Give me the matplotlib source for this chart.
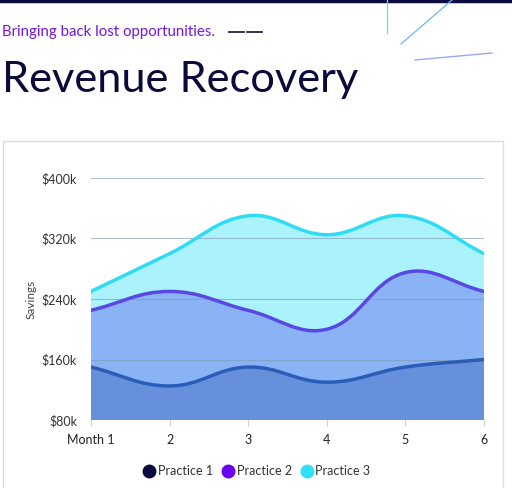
import numpy as np
import matplotlib
matplotlib.use("Agg")
import matplotlib.pyplot as plt
from matplotlib.path import Path
from matplotlib.patches import PathPatch, Rectangle
from matplotlib.lines import Line2D

plt.rcParams['font.family'] = ['Lato', 'DejaVu Sans']

months = [1, 2, 3, 4, 5, 6]
month_labels = ["Month 1", "2", "3", "4", "5", "6"]
practice1 = [150, 125, 150, 130, 150, 160]
practice2 = [225, 250, 225, 200, 275, 250]
practice3 = [250, 300, 350, 325, 350, 300]
y_ticks = [80, 160, 240, 320, 400]
y_labels = ["$80k", "$160k", "$240k", "$320k", "$400k"]

series = [
    ("Practice 3", practice3, "#2edcf6", "#aaf2fc", "#2ee0f8"),
    ("Practice 2", practice2, "#5a48e6", "#8ab3f6", "#6a00ee"),
    ("Practice 1", practice1, "#2b5cb8", "#6690db", "#0c0a3e"),
]

fig = plt.figure(figsize=(5.12, 4.88), dpi=100)
fig.patch.set_facecolor("white")

# header decoration
fig.add_artist(Line2D([0, 1], [0.998, 0.998], color="#0c0a3e", lw=2.5))
fig.add_artist(Line2D([387/512, 387/512], [1, 1-33/488], color="#6fd3f5", lw=0.9))
fig.add_artist(Line2D([452/512, 401/512], [1, 1-44/488], color="#6ab8f0", lw=0.9))
fig.add_artist(Line2D([415/512, 492/512], [1-60/488, 1-53/488], color="#9aa8f2", lw=1.0))
fig.text(2/512, 1-32/488, "Bringing back lost opportunities.", color="#7215e6",
         fontsize=10.8, va="center", ha="left")
fig.add_artist(Line2D([229/512, 244/512], [1-32/488, 1-32/488], color="#111133", lw=1.2))
fig.add_artist(Line2D([247/512, 262/512], [1-32/488, 1-32/488], color="#111133", lw=1.2))
fig.text(2/512, 1-92/488, "Revenue Recovery", color="#0b0b3b", fontsize=31.2,
         va="baseline", ha="left")

# card
fig.add_artist(Rectangle((3/512, -0.02), 500/512, 0.02 + 1-141/488, fill=False,
                         edgecolor="#dcdcdc", lw=1.0))

ax = fig.add_axes([91/512, 1-420/488, 393/512, 242/488])
ax.set_xlim(1, 6)
ax.set_ylim(80, 400)


def bezier_path(xs, ys, tension=0.4):
    # chart.js style spline control points, computed in normalized axis space
    xn = (np.array(xs, float) - 1) / 5 * 393
    yn = (np.array(ys, float) - 80) / 320 * 242
    pts = np.column_stack([xn, yn])
    n = len(pts)
    cps = []
    for i in range(n):
        p0 = pts[max(i-1, 0)]
        p1 = pts[i]
        p2 = pts[min(i+1, n-1)]
        d01 = np.hypot(*(p1-p0))
        d12 = np.hypot(*(p2-p1))
        tot = d01 + d12 if d01 + d12 > 0 else 1
        fa = tension * d01 / tot
        fb = tension * d12 / tot
        cps.append((p1 - fa*(p2-p0), p1 + fb*(p2-p0)))
    verts = [pts[0]]
    codes = [Path.MOVETO]
    for i in range(n-1):
        verts += [cps[i][1], cps[i+1][0], pts[i+1]]
        codes += [Path.CURVE4]*3
    verts = np.array(verts)
    verts[:, 0] = verts[:, 0] / 393 * 5 + 1
    verts[:, 1] = verts[:, 1] / 242 * 320 + 80
    return verts, codes


for name, vals, line_c, fill_c, leg_c in series:
    verts, codes = bezier_path(months, vals)
    fv = np.vstack([verts, [[6, 80], [1, 80], verts[0]]])
    fc = codes + [Path.LINETO, Path.LINETO, Path.CLOSEPOLY]
    ax.add_patch(PathPatch(Path(fv, fc), facecolor=fill_c, edgecolor="none", zorder=1))
    ax.add_patch(PathPatch(Path(verts, codes), facecolor="none", edgecolor=line_c,
                           lw=2.5, zorder=3, capstyle="round"))

for t in y_ticks:
    ax.axhline(t, color="#7f98b0", lw=0.8, alpha=0.6, zorder=2)

for s in ax.spines.values():
    s.set_visible(False)
ax.set_yticks(y_ticks)
ax.set_yticklabels(y_labels, fontsize=9, color="#333333")
ax.set_xticks(months)
ax.set_xticklabels(month_labels, fontsize=9, color="#222222")
ax.tick_params(axis="y", length=0, pad=10)
ax.tick_params(axis="x", length=4, color="#cccccc", pad=6)
ax.set_ylabel("Savings", fontsize=8.5, color="#444444", labelpad=4)

handles = [Line2D([], [], marker="o", ls="none", markersize=9, markerfacecolor=c,
                  markeredgecolor=c, label=n)
           for n, _, _, _, c in series[::-1]]
fig.legend(handles=handles, loc="center", bbox_to_anchor=(256/512, 1-471/488), ncol=3,
           frameon=False, fontsize=9, handletextpad=0.1, columnspacing=0.6,
           handlelength=1.2, labelcolor="#333333")

plt.savefig("out.png", dpi=100)
